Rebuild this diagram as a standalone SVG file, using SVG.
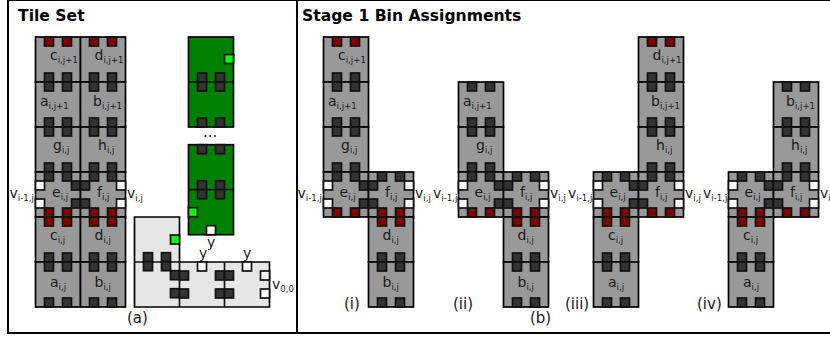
<svg xmlns="http://www.w3.org/2000/svg" width="830" height="337" viewBox="0 0 830 337">
<style>
text{font-family:"DejaVu Sans",sans-serif;font-size:14px;fill:#1a1a1a}
.h{font-weight:bold;font-size:15.6px;fill:#000}
.c{font-size:15px}
.s{font-size:8.6px}
.t{fill:#999;stroke:#000;stroke-width:1.7}
.g{fill:#008000;stroke:#000;stroke-width:1.7}
.l{fill:#e6e6e6;stroke:#000;stroke-width:1.7}
.d{fill:#333;stroke:#111;stroke-width:1.7}
.r{fill:#800000;stroke:#111;stroke-width:1.7}
.w{fill:#fff;stroke:#111;stroke-width:1.7}
.n{fill:#0f0;stroke:#111;stroke-width:1.7}
.f{fill:none;stroke:#111;stroke-width:1.7}
</style>
<defs>
<g id="T"><rect x="9" y="0" width="9" height="9"/><rect x="27" y="0" width="9" height="9"/></g>
<g id="B"><rect x="9" y="36" width="9" height="9"/><rect x="27" y="36" width="9" height="9"/></g>
<g id="L"><rect x="0" y="9" width="9" height="9"/><rect x="0" y="27" width="9" height="9"/></g>
<g id="R"><rect x="36" y="9" width="9" height="9"/><rect x="36" y="27" width="9" height="9"/></g>
<g id="dd"><rect class="t" width="45" height="45"/><use href="#T" class="d"/><use href="#B" class="d"/></g>
<g id="rd"><rect class="t" width="45" height="45"/><use href="#T" class="r"/><use href="#B" class="d"/></g>
<g id="E"><rect class="t" width="45" height="45"/><use href="#T" class="d"/><use href="#B" class="r"/><use href="#L" class="w"/><use href="#R" class="d"/></g>
<g id="F"><rect class="t" width="45" height="45"/><use href="#T" class="d"/><use href="#B" class="r"/><use href="#L" class="d"/><use href="#R" class="w"/></g>
</defs>

<g id="frame">
<rect class="f" style="stroke:#000;stroke-width:2" x="8" y="0" width="830" height="333"/>
<path class="f" style="stroke:#000;stroke-width:2" d="M297 0V333"/>
<text class="h" x="18" y="21">Tile Set</text>
<text class="h" x="302" y="21">Stage 1 Bin Assignments</text>
<text class="c" x="127" y="323">(a)</text>
<text class="c" x="530" y="323">(b)</text>
<text class="c" x="344" y="309">(i)</text>
<text class="c" x="453" y="309">(ii)</text>
<text class="c" x="565" y="309">(iii)</text>
<text class="c" x="697" y="309">(iv)</text>
</g>

<g id="connectors"></g>

<g id="tileset">
<g id="ts-c1" transform="translate(35.5 37)"><use href="#rd"/><text x="14.5" y="23">c<tspan class="s" dy="3">i,j+1</tspan></text></g>
<g id="ts-d1" transform="translate(80.5 37)"><use href="#rd"/><text x="14" y="23">d<tspan class="s" dy="3">i,j+1</tspan></text></g>
<g id="ts-a1" transform="translate(35.5 82)"><use href="#dd"/><text x="4.5" y="24">a<tspan class="s" dy="3">i,j+1</tspan></text></g>
<g id="ts-b1" transform="translate(80.5 82)"><use href="#dd"/><text x="12.5" y="24">b<tspan class="s" dy="3">i,j+1</tspan></text></g>
<g id="ts-g" transform="translate(35.5 127)"><use href="#dd"/><text x="17.5" y="23">g<tspan class="s" dy="3">i,j</tspan></text></g>
<g id="ts-h" transform="translate(80.5 127)"><use href="#dd"/><text x="17.5" y="23">h<tspan class="s" dy="3">i,j</tspan></text></g>
<g id="ts-e" transform="translate(35.5 172)"><use href="#E"/><text x="16.5" y="25">e<tspan class="s" dy="3">i,j</tspan></text></g>
<g id="ts-f" transform="translate(80.5 172)"><use href="#F"/><text x="16.5" y="25">f<tspan class="s" dy="3">i,j</tspan></text></g>
<g id="ts-c" transform="translate(35.5 217)"><use href="#rd"/><text x="14.5" y="23">c<tspan class="s" dy="3">i,j</tspan></text></g>
<g id="ts-d" transform="translate(80.5 217)"><use href="#rd"/><text x="14" y="23">d<tspan class="s" dy="3">i,j</tspan></text></g>
<g id="ts-a" transform="translate(35.5 262)"><use href="#dd"/><text x="14.5" y="25">a<tspan class="s" dy="3">i,j</tspan></text></g>
<g id="ts-b" transform="translate(80.5 262)"><use href="#dd"/><text x="14" y="25">b<tspan class="s" dy="3">i,j</tspan></text></g>
<text id="ts-vl" x="9.5" y="198">v<tspan class="s" dy="3">i-1,j</tspan></text>
<text id="ts-vr" x="127" y="198">v<tspan class="s" dy="3">i,j</tspan></text>
</g>

<g id="green-1" transform="translate(188.5 37)"><rect class="g" width="45" height="90"/><path class="f" d="M0 45H45"/><use href="#T" class="d" y="36"/><use href="#T" class="d" y="45"/><use href="#B" class="d" y="45"/><rect class="n" x="36" y="17.5" width="9" height="9"/></g>
<text id="dots" x="203" y="137" class="c">...</text>
<g id="green-2" transform="translate(188.5 144.7)"><rect class="g" width="45" height="90"/><path class="f" d="M0 45H45"/><use href="#T" class="d"/><use href="#T" class="d" y="36"/><use href="#T" class="d" y="45"/><rect class="n" x="0" y="63" width="9" height="9"/><rect class="w" x="18" y="81" width="9" height="9"/></g>

<g id="seed">
<path class="l" d="M134.5 217H179.5V262H269.5V307H134.5Z"/>
<path class="f" d="M134.5 262H179.5M179.5 262V307M224.5 262V307"/>
<g transform="translate(134.5 216.7)"><use href="#B" class="d"/><use href="#T" class="d" y="45"/><use href="#R" class="d" y="45"/></g>
<use href="#L" class="d" x="179.5" y="262"/>
<use href="#R" class="d" x="179.5" y="262"/>
<use href="#L" class="d" x="224.5" y="262"/>
<rect class="n" x="170.5" y="235" width="9" height="9"/>
<rect class="w" x="197.5" y="262" width="9" height="9"/>
<rect class="w" x="242.5" y="262" width="9" height="9"/>
<use href="#R" class="w" x="224.5" y="262"/>
<text x="207" y="247">y</text>
<text x="199" y="258">y</text>
<text x="243" y="258">y</text>
<text x="272" y="289">v<tspan class="s" dy="3">0,0</tspan></text>
</g>

<g id="bin-i">
<g transform="translate(323.5 37)"><use href="#rd"/><text x="14.5" y="23">c<tspan class="s" dy="3">i,j+1</tspan></text></g>
<g transform="translate(323.5 82)"><use href="#dd"/><text x="4.5" y="24">a<tspan class="s" dy="3">i,j+1</tspan></text></g>
<g transform="translate(323.5 127)"><use href="#dd"/><text x="17.5" y="23">g<tspan class="s" dy="3">i,j</tspan></text></g>
<g transform="translate(323.5 172)"><use href="#E"/><text x="16" y="25">e<tspan class="s" dy="3">i,j</tspan></text></g>
<g transform="translate(368.5 172)"><use href="#F"/><text x="16.5" y="25">f<tspan class="s" dy="3">i,j</tspan></text></g>
<g transform="translate(368.5 217)"><use href="#rd"/><text x="14" y="23">d<tspan class="s" dy="3">i,j</tspan></text></g>
<g transform="translate(368.5 262)"><use href="#dd"/><text x="14" y="25">b<tspan class="s" dy="3">i,j</tspan></text></g>
<text x="297.5" y="198">v<tspan class="s" dy="3">i-1,j</tspan></text>
<text x="415" y="198">v<tspan class="s" dy="3">i,j</tspan></text>
</g>

<g id="bin-ii">
<g transform="translate(458.5 82)"><use href="#dd"/><text x="4.5" y="24">a<tspan class="s" dy="3">i,j+1</tspan></text></g>
<g transform="translate(458.5 127)"><use href="#dd"/><text x="17.5" y="23">g<tspan class="s" dy="3">i,j</tspan></text></g>
<g transform="translate(458.5 172)"><use href="#E"/><text x="16" y="25">e<tspan class="s" dy="3">i,j</tspan></text></g>
<g transform="translate(503.5 172)"><use href="#F"/><text x="16.5" y="25">f<tspan class="s" dy="3">i,j</tspan></text></g>
<g transform="translate(503.5 217)"><use href="#rd"/><text x="14" y="23">d<tspan class="s" dy="3">i,j</tspan></text></g>
<g transform="translate(503.5 262)"><use href="#dd"/><text x="14" y="25">b<tspan class="s" dy="3">i,j</tspan></text></g>
<text x="433" y="198">v<tspan class="s" dy="3">i-1,j</tspan></text>
<text x="550" y="198">v<tspan class="s" dy="3">i,j</tspan></text>
</g>

<g id="bin-iii">
<g transform="translate(638.5 37)"><use href="#rd"/><text x="14" y="23">d<tspan class="s" dy="3">i,j+1</tspan></text></g>
<g transform="translate(638.5 82)"><use href="#dd"/><text x="12.5" y="24">b<tspan class="s" dy="3">i,j+1</tspan></text></g>
<g transform="translate(638.5 127)"><use href="#dd"/><text x="17.5" y="23">h<tspan class="s" dy="3">i,j</tspan></text></g>
<g transform="translate(593.5 172)"><use href="#E"/><text x="16" y="25">e<tspan class="s" dy="3">i,j</tspan></text></g>
<g transform="translate(638.5 172)"><use href="#F"/><text x="16.5" y="25">f<tspan class="s" dy="3">i,j</tspan></text></g>
<g transform="translate(593.5 217)"><use href="#rd"/><text x="14.5" y="23">c<tspan class="s" dy="3">i,j</tspan></text></g>
<g transform="translate(593.5 262)"><use href="#dd"/><text x="14.5" y="25">a<tspan class="s" dy="3">i,j</tspan></text></g>
<text x="568" y="198">v<tspan class="s" dy="3">i-1,j</tspan></text>
<text x="685" y="198">v<tspan class="s" dy="3">i,j</tspan></text>
</g>

<g id="bin-iv">
<g transform="translate(773.5 82)"><use href="#dd"/><text x="12.5" y="24">b<tspan class="s" dy="3">i,j+1</tspan></text></g>
<g transform="translate(773.5 127)"><use href="#dd"/><text x="17.5" y="23">h<tspan class="s" dy="3">i,j</tspan></text></g>
<g transform="translate(728.5 172)"><use href="#E"/><text x="16" y="25">e<tspan class="s" dy="3">i,j</tspan></text></g>
<g transform="translate(773.5 172)"><use href="#F"/><text x="16.5" y="25">f<tspan class="s" dy="3">i,j</tspan></text></g>
<g transform="translate(728.5 217)"><use href="#rd"/><text x="14.5" y="23">c<tspan class="s" dy="3">i,j</tspan></text></g>
<g transform="translate(728.5 262)"><use href="#dd"/><text x="14.5" y="25">a<tspan class="s" dy="3">i,j</tspan></text></g>
<text x="703" y="198">v<tspan class="s" dy="3">i-1,j</tspan></text>
<text x="820" y="198">v<tspan class="s" dy="3">i,j</tspan></text>
</g>
</svg>
